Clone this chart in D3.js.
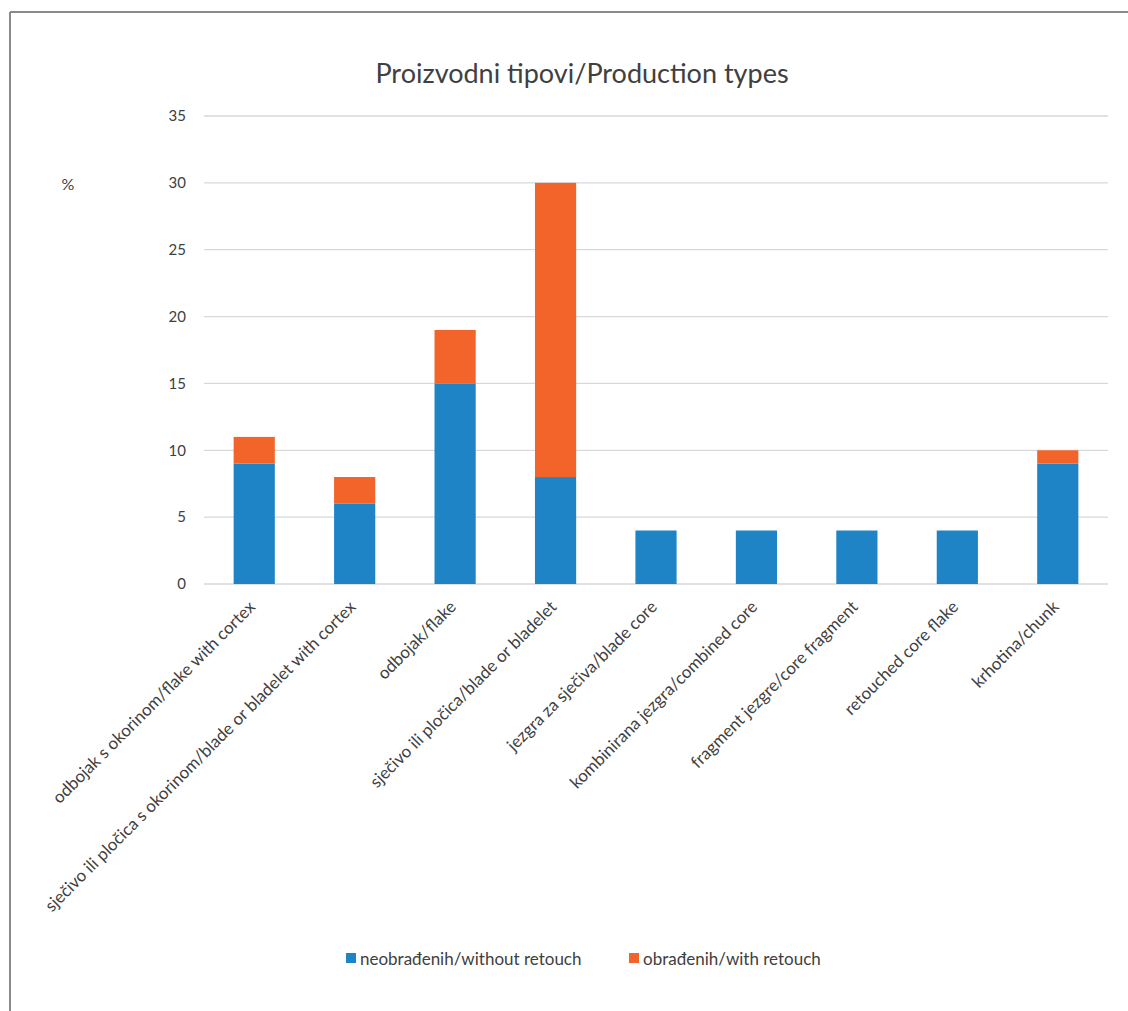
<!DOCTYPE html>
<html><head><meta charset="utf-8">
<script src="https://cdn.jsdelivr.net/npm/d3@7"></script>
<style>body{margin:0;background:#fff;} svg{display:block;}</style>
</head><body>
<script>
const categories = [
  "odbojak s okorinom/flake with cortex",
  "sječivo ili pločica s okorinom/blade or bladelet with cortex",
  "odbojak/flake",
  "sječivo ili pločica/blade or bladelet",
  "jezgra za sječiva/blade core",
  "kombinirana jezgra/combined core",
  "fragment jezgre/core fragment",
  "retouched core flake",
  "krhotina/chunk"
];
const withoutRetouch = [9, 6, 15, 8, 4, 4, 4, 4, 9];
const withRetouch = [2, 2, 4, 22, 0, 0, 0, 0, 1];
const seriesNames = ["neobrađenih/without retouch", "obrađenih/with retouch"];
const yTicks = [0, 5, 10, 15, 20, 25, 30, 35];
const title = "Proizvodni tipovi/Production types";
const yLabel = "%";

const W = 1128, H = 1011;
const colors = ["#1f84c6", "#f26429"];
const font = "Lato, 'Open Sans', sans-serif";
const svg = d3.select("body").append("svg").attr("width", W).attr("height", H);

// frame
svg.append("line").attr("x1", 10).attr("x2", W).attr("y1", 12).attr("y2", 12).attr("stroke", "#8a8a8a").attr("stroke-width", 2);
svg.append("line").attr("x1", 10).attr("x2", 10).attr("y1", 12).attr("y2", H).attr("stroke", "#8a8a8a").attr("stroke-width", 2);

const x = d3.scaleBand().domain(categories).range([204, 1108]).paddingInner(0.59).paddingOuter(0.295);
const y = d3.scaleLinear().domain([0, 35]).range([584, 116]);

// grid
svg.append("g").selectAll("line").data(yTicks).join("line")
  .attr("x1", 204).attr("x2", 1108)
  .attr("y1", d => y(d)).attr("y2", d => y(d))
  .attr("stroke", "#d5d9db").attr("stroke-width", 1.3);

// y tick labels
svg.append("g").selectAll("text").data(yTicks).join("text")
  .attr("x", 186).attr("y", d => y(d)).attr("dy", "0.35em")
  .attr("text-anchor", "end").attr("font-family", font).attr("font-size", 15).attr("fill", "#404040")
  .text(d => d);

const data = categories.map((c, i) => ({c, a: withoutRetouch[i], b: withRetouch[i]}));
const stack = d3.stack().keys(["a", "b"])(data);
svg.append("g").selectAll("g").data(stack).join("g").attr("fill", (d, i) => colors[i])
  .selectAll("rect").data(d => d).join("rect")
  .attr("x", d => x(d.data.c)).attr("width", x.bandwidth())
  .attr("y", d => y(d[1])).attr("height", d => y(d[0]) - y(d[1]));

// category labels
svg.append("g").selectAll("text").data(categories).join("text")
  .attr("transform", d => `translate(${x(d) + x.bandwidth() / 2 + 2},${608}) rotate(-45)`)
  .attr("text-anchor", "end").attr("font-family", font).attr("font-size", 17).attr("fill", "#404040")
  .text(d => d);

// title
svg.append("text").attr("x", 582).attr("y", 83).attr("text-anchor", "middle")
  .attr("font-family", font).attr("font-size", 27).attr("fill", "#404040").text(title);

// y label
svg.append("text").attr("x", 68).attr("y", 190).attr("text-anchor", "middle")
  .attr("font-family", font).attr("font-size", 16).attr("fill", "#404040").text(yLabel);

// legend
const legendX = [346, 629];
const lg = svg.append("g").selectAll("g").data(seriesNames).join("g")
  .attr("transform", (d, i) => `translate(${legendX[i]},959)`);
lg.append("rect").attr("x", 0).attr("y", -6).attr("width", 10).attr("height", 10).attr("fill", (d, i) => colors[i]);
lg.append("text").attr("x", 14).attr("y", 0).attr("dy", "0.35em")
  .attr("font-family", font).attr("font-size", 17).attr("fill", "#404040").text(d => d);
</script>
</body></html>
